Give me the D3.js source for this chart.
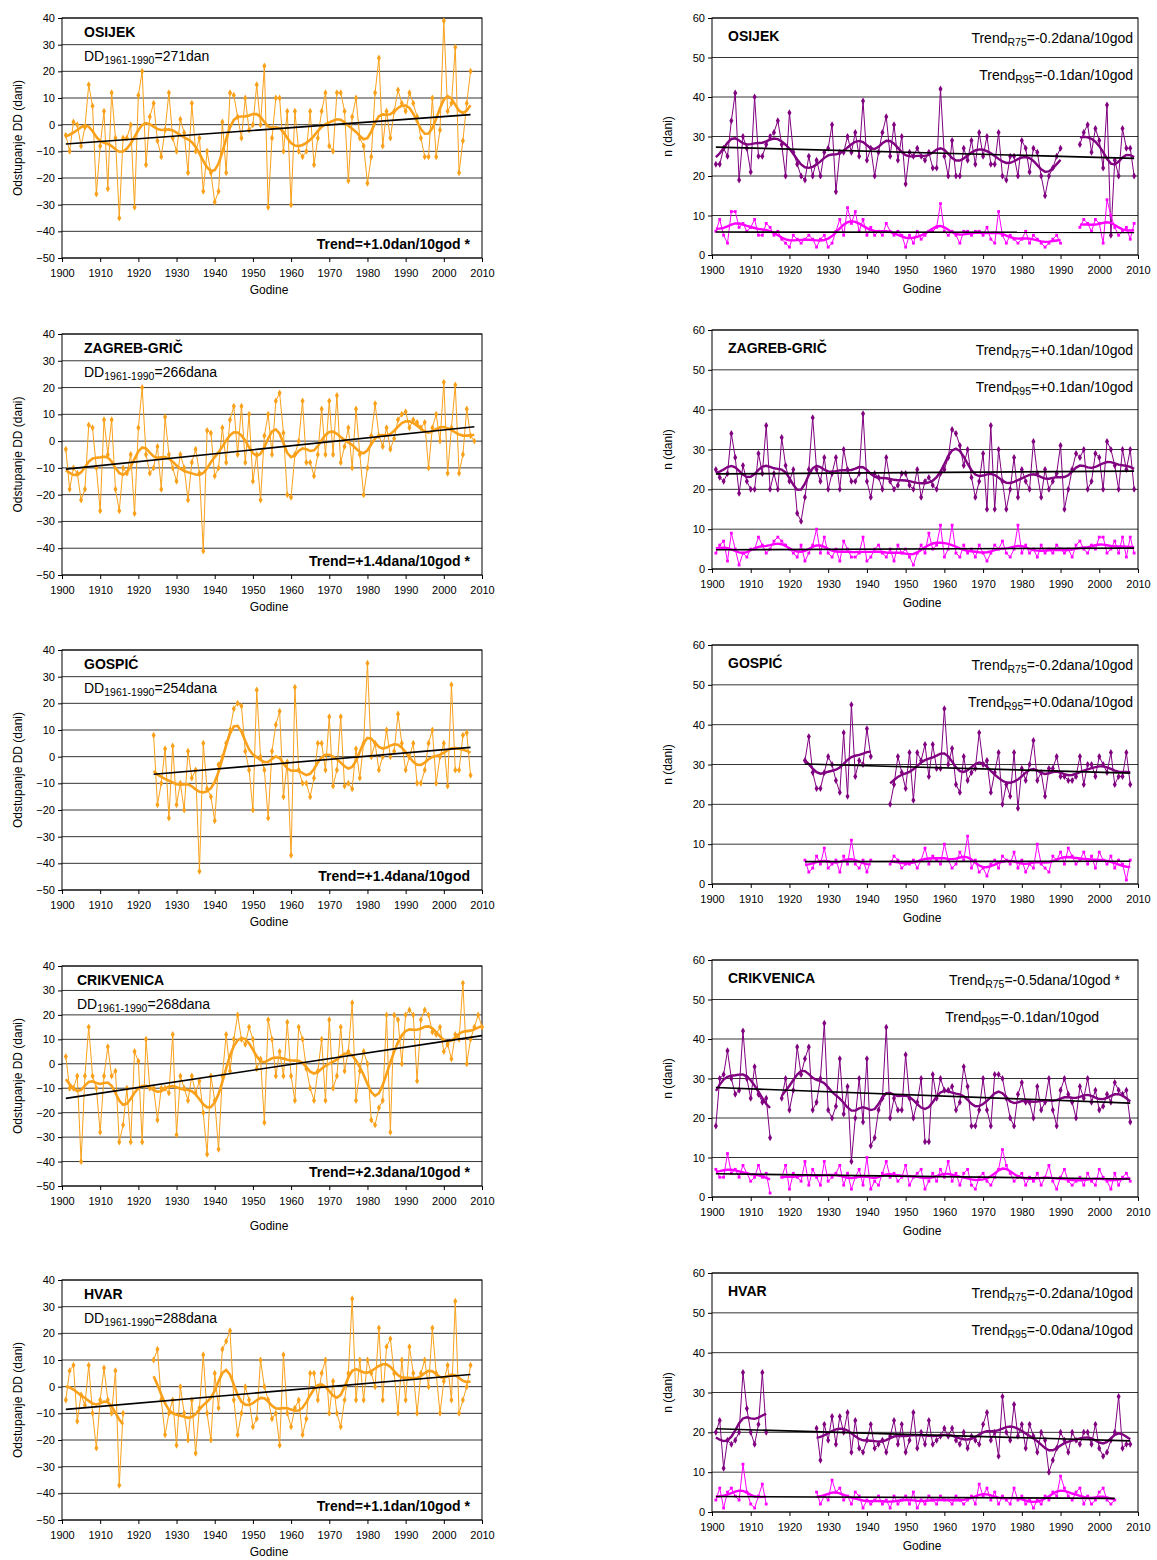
<!DOCTYPE html>
<html><head><meta charset="utf-8">
<script src="https://cdn.jsdelivr.net/npm/d3@7"></script>
<style>body{margin:0;background:#fff;font-family:"Liberation Sans",Arial,sans-serif}</style>
</head><body><div id="chart"></div>
<script>
// station names and labels
var stations = ["OSIJEK", "ZAGREB-GRIČ", "GOSPIĆ", "CRIKVENICA", "HVAR"];
var ddNorm = ["271dan", "266dana", "254dana", "268dana", "288dana"];
var trendDD = ["+1.0dan/10god *", "+1.4dana/10god *", "+1.4dana/10god", "+2.3dana/10god *", "+1.1dan/10god *"];
var trendR75 = ["-0.2dana/10god", "+0.1dan/10god", "-0.2dana/10god", "-0.5dana/10god *", "-0.2dana/10god"];
var trendR95 = ["-0.1dan/10god", "+0.1dan/10god", "+0.0dana/10god", "-0.1dan/10god", "-0.0dana/10god"];
var startDD = [1901, 1901, 1924, 1901, 1901];
var startR = [1901, 1901, 1924, 1901, 1901];
var yearTicks = d3.range(1900, 2011, 10);
var ddTicks = d3.range(-50, 41, 10);
var nTicks = d3.range(0, 61, 10);

var _ = null;
// DD anomalies (days), one per year from startDD
var ddOsijek = [-4,-10,1,0,-8,-1,15,7,-26,-8,5,-24,12,-5,-35,-5,-5,0,-31,11,20,-15,3,8,-6,-12,-2,12,-5,-10,2,-3,-18,8,-10,-5,-25,-10,-18,-29,-25,1,-18,12,11,3,-5,10,-2,0,15,0,22,-31,-5,10,10,-10,5,-30,5,-10,-12,-10,5,-15,-5,5,12,-8,-10,12,12,5,-21,3,10,-5,-8,-22,-12,12,25,-8,5,-5,5,13,8,5,12,8,3,-5,-12,-12,10,-12,-2,39,5,8,29,-18,-6,8,20];
var ddZagreb = [-3,-18,-10,-12,-22,-18,6,5,-10,-26,8,-5,8,-18,-26,-10,-12,-5,-27,5,20,-5,-12,-10,-2,-18,9,-5,-10,-15,-5,-10,-22,-8,-3,-12,-41,4,3,-13,-10,5,-8,8,13,-5,13,-8,10,-15,-5,-22,2,10,-5,15,18,3,-20,-21,-5,0,15,-8,-8,-13,-5,12,-5,15,-5,17,-8,-2,5,-10,12,-5,-20,-10,2,14,2,-2,5,-3,1,8,10,11,5,8,7,5,7,-10,5,10,0,22,-12,5,21,-12,-5,12,2,0];
var ddGospic = [8,-18,-10,3,-23,4,-18,-10,-20,2,-8,-5,-43,5,-12,-15,-24,-3,0,5,10,18,20,19,2,-5,-20,25,0,-5,-23,2,12,17,-15,-2,-37,26,-5,-10,-10,-15,-8,5,5,-5,15,-11,-5,15,-11,-10,-12,3,-8,5,35,0,5,-5,0,10,0,2,16,5,-5,0,5,-10,-10,-5,5,10,-10,0,5,-11,27,-5,-5,8,9,-7];
var ddCrikvenica = [3,-10,-10,-5,-40,-5,15,-5,-10,-28,-5,7,-5,-3,-32,-25,-10,-32,5,1,-32,10,-10,-10,-23,-10,-10,-12,12,-29,-5,-10,-15,-5,-12,-7,-20,-37,-5,-15,-35,-5,12,-3,10,20,10,8,15,10,-2,2,-24,18,10,-5,5,-5,17,-5,-15,15,10,-2,-10,-15,-3,10,-15,18,-10,-5,15,-3,5,25,-15,-3,5,0,-23,-25,-18,-15,20,-28,20,18,0,20,22,20,-7,18,22,20,13,12,15,5,8,2,12,10,33,0,10,15,20,15];
var ddHvar = [-5,6,8,-13,-3,-7,8,-10,-23,-5,7,-5,-10,6,-37,-10,_,_,_,_,_,_,_,10,14,-5,-18,-10,-5,-22,0,-10,-20,-5,-25,-8,12,-10,-20,5,-8,14,17,21,-5,-18,-10,0,-5,-15,-12,10,0,-5,-12,-10,-22,12,-10,-15,-8,-5,-18,-12,5,5,-5,5,10,-10,2,-10,-15,-5,5,33,-5,10,-5,10,5,0,22,-5,15,18,5,-10,10,-5,15,5,-10,5,10,0,22,5,-10,2,8,-5,32,-10,-5,0,8];
// number of days above 75th (R75) and 95th (R95) percentile
var r75Osijek = [23,23,27,25,34,41,19,30,27,21,40,25,25,28,30,31,34,28,20,36,26,23,20,19,25,20,24,20,26,27,33,16,26,26,30,26,31,25,39,24,27,20,26,31,35,25,33,24,30,18,26,25,27,25,24,26,22,22,42,25,20,29,20,20,27,24,29,23,31,25,30,23,23,31,20,19,25,25,20,29,27,21,27,26,20,15,20,22,25,27,_,_,_,_,28,31,33,26,32,29,22,38,5,24,20,32,27,27,20];
var r95Osijek = [6,9,5,3,11,11,7,8,6,7,9,5,5,8,7,5,6,4,3,2,5,4,3,4,5,4,2,4,5,2,3,6,9,5,12,8,11,6,9,5,7,5,6,5,8,6,5,6,5,2,5,3,6,4,5,6,6,7,13,6,5,6,5,3,6,6,5,6,6,5,7,4,3,11,5,3,5,4,3,4,6,3,5,4,3,2,3,4,5,3,_,_,_,_,7,9,8,6,9,8,3,14,10,7,5,6,7,4,8];
var r75Zagreb = [25,23,22,24,34,28,19,26,22,20,20,29,24,36,20,24,20,33,26,22,25,14,12,18,25,38,25,22,28,20,24,28,20,30,25,22,22,24,39,22,18,24,23,20,28,22,20,21,24,24,21,20,25,18,22,23,21,20,24,25,28,35,34,31,26,30,23,18,22,29,15,36,15,30,22,15,20,28,18,25,22,20,32,24,18,25,20,22,24,31,15,20,25,29,28,30,20,22,29,28,20,32,30,26,20,30,25,30,20];
var r95Zagreb = [4,6,7,2,9,5,1,4,3,5,5,8,6,4,5,7,8,7,6,5,4,3,6,2,4,6,10,4,8,4,3,5,2,7,5,3,3,4,8,2,3,5,6,4,3,5,2,6,4,5,3,1,4,6,4,9,5,6,11,3,5,11,4,3,6,4,5,3,6,4,2,4,6,5,7,4,3,5,11,4,6,4,5,3,6,4,5,4,6,5,4,5,3,6,7,5,4,6,5,8,8,4,5,7,4,8,3,8,4];
var r75Gospic = [31,37,28,24,24,28,32,30,26,23,38,22,45,27,31,30,39,32,_,_,_,_,20,25,32,28,24,33,21,33,31,35,27,35,29,29,44,30,34,25,23,32,26,28,29,38,30,31,23,28,33,20,25,22,33,19,29,26,30,36,26,28,22,29,29,32,27,27,26,26,27,32,25,30,30,27,32,30,28,33,25,27,27,33,25];
var r95Gospic = [6,3,4,7,5,9,4,5,6,3,7,5,11,5,4,6,3,6,_,_,_,_,5,7,6,4,5,5,6,4,6,9,5,7,6,5,10,6,4,5,8,6,12,4,6,3,4,2,5,6,4,7,6,5,8,4,6,3,5,4,10,5,4,3,7,6,8,5,9,7,5,6,8,5,7,4,8,6,5,7,4,6,5,1,6];
var r75Crikvenica = [18,30,31,37,30,26,27,42,30,25,33,26,24,25,15,_,_,25,30,22,27,38,31,35,38,22,24,30,44,22,20,23,35,21,28,9,20,30,19,35,13,15,22,25,43,20,25,22,22,36,25,20,24,30,14,14,31,25,30,27,27,28,22,24,33,28,18,18,22,30,22,18,31,31,30,25,20,18,26,29,24,24,20,28,22,24,30,22,18,27,30,26,24,20,28,25,30,24,27,22,23,26,24,29,27,26,27,19];
var r95Crikvenica = [7,5,5,11,6,7,5,8,6,4,5,8,5,6,1,_,_,5,8,2,6,5,4,9,3,7,5,3,9,4,5,6,8,3,6,2,5,7,3,10,2,4,3,6,9,5,6,4,5,8,3,5,6,7,2,4,6,4,7,5,9,4,6,3,6,7,3,2,5,6,4,3,5,7,12,8,6,4,5,6,3,5,4,6,3,5,8,4,2,5,7,4,3,4,5,3,6,4,3,7,5,4,2,6,3,5,6,4];
var r75Hvar = [20,23,11,18,17,18,20,35,26,20,17,22,35,20,_,_,_,_,_,_,_,_,_,_,_,_,21,13,22,18,24,17,24,20,25,15,23,16,15,18,22,16,17,18,15,19,23,17,22,15,18,25,16,20,17,23,17,18,19,21,19,21,18,17,20,16,19,18,17,22,25,18,20,14,29,20,18,27,19,22,16,22,19,15,20,18,10,13,16,20,18,15,20,18,17,20,20,17,22,16,14,15,18,20,29,16,17,17];
var r95Hvar = [3,6,1,5,6,4,3,12,5,2,1,4,7,2,_,_,_,_,_,_,_,_,_,_,_,_,5,2,4,3,8,5,6,3,4,2,5,4,1,3,2,3,4,2,3,1,4,2,3,4,2,5,1,3,2,4,3,2,4,3,3,2,4,3,2,3,4,2,7,4,6,3,5,2,4,3,2,6,3,4,2,3,1,3,2,4,3,5,4,9,6,4,3,5,6,2,4,2,3,5,6,3,2,3];

var ddSeries = [ddOsijek, ddZagreb, ddGospic, ddCrikvenica, ddHvar];
var r75Series = [r75Osijek, r75Zagreb, r75Gospic, r75Crikvenica, r75Hvar];
var r95Series = [r95Osijek, r95Zagreb, r95Gospic, r95Crikvenica, r95Hvar];

var leftTops = [18, 334, 650, 966, 1280], leftH = [240, 241, 240, 220, 240];
var rightTops = [18, 330, 645, 960, 1273], rightH = [237, 239, 239, 237, 239];

var svg = d3.select("#chart").append("svg").attr("width", 1157).attr("height", 1560)
    .style("font-family", '"Liberation Sans",Arial,sans-serif');

function toPoints(arr, start) {
    return arr.map(function(v, i) { return {x: start + i, y: v}; });
}
// gaussian smoothing over existing neighbours
function smooth(pts) {
    var s = 2;
    return pts.map(function(p) {
        if (p.y == null) return {x: p.x, y: null};
        var sw = 0, sv = 0;
        pts.forEach(function(q) {
            if (q.y == null || Math.abs(q.x - p.x) > 6) return;
            var w = Math.exp(-Math.pow(q.x - p.x, 2) / (2 * s * s));
            sw += w; sv += w * q.y;
        });
        return {x: p.x, y: sv / sw};
    });
}
function fit(pts) {
    var v = pts.filter(function(p) { return p.y != null; });
    var mx = d3.mean(v, function(p) { return p.x; }), my = d3.mean(v, function(p) { return p.y; });
    var b = d3.sum(v, function(p) { return (p.x - mx) * (p.y - my); }) / d3.sum(v, function(p) { return (p.x - mx) * (p.x - mx); });
    var x0 = d3.min(v, function(p) { return p.x; }), x1 = d3.max(v, function(p) { return p.x; });
    return [{x: x0, y: my + b * (x0 - mx)}, {x: x1, y: my + b * (x1 - mx)}];
}

function panel(x0, x1, top, h, ticks, yLabel, xLabelGap) {
    var g = svg.append("g");
    var x = d3.scaleLinear().domain([1900, 2010]).range([x0, x1]);
    var y = d3.scaleLinear().domain([ticks[0], ticks[ticks.length - 1]]).range([top + h, top]);
    g.selectAll(".grid").data(ticks).enter().append("line")
        .attr("x1", x0).attr("x2", x1).attr("y1", function(d) { return y(d); }).attr("y2", function(d) { return y(d); })
        .attr("stroke", "#000").attr("stroke-width", 0.8);
    g.append("rect").attr("x", x0).attr("y", top).attr("width", x1 - x0).attr("height", h)
        .attr("fill", "none").attr("stroke", "#000").attr("stroke-width", 1);
    g.append("g").attr("transform", "translate(0," + (top + h) + ")")
        .call(d3.axisBottom(x).tickValues(yearTicks).tickFormat(d3.format("d")).tickSize(4))
        .call(function(a) { a.select(".domain").remove(); a.selectAll("text").attr("font-size", 11).attr("fill", "#000").attr("dy", "1.1em"); });
    g.append("g").attr("transform", "translate(" + x0 + ",0)")
        .call(d3.axisLeft(y).tickValues(ticks).tickSize(4))
        .call(function(a) { a.select(".domain").remove(); a.selectAll("text").attr("font-size", 11).attr("fill", "#000"); });
    g.append("text").attr("x", (x0 + x1) / 2 - 3).attr("y", top + h + xLabelGap).attr("text-anchor", "middle")
        .attr("font-size", 12).text("Godine");
    var lx = x0 - 40;
    g.append("text").attr("transform", "translate(" + lx + "," + (top + h / 2) + ") rotate(-90)")
        .attr("text-anchor", "middle").attr("font-size", 12).text(yLabel);
    return {g: g, x: x, y: y};
}

function draw(p, pts, color, thin, thick, shape, size) {
    var line = d3.line().defined(function(d) { return d.y != null; }).x(function(d) { return p.x(d.x); }).y(function(d) { return p.y(d.y); });
    p.g.append("path").attr("d", line(pts)).attr("fill", "none").attr("stroke", color).attr("stroke-width", thin);
    p.g.selectAll(null).data(pts.filter(function(d) { return d.y != null; })).enter().append("path")
        .attr("transform", function(d) { return "translate(" + p.x(d.x) + "," + p.y(d.y) + ")"; })
        .attr("d", d3.symbol().type(shape).size(size)).attr("fill", color);
    p.g.append("path").attr("d", line(smooth(pts))).attr("fill", "none").attr("stroke", color).attr("stroke-width", thick);
    p.g.append("path").attr("d", line(fit(pts))).attr("fill", "none").attr("stroke", "#000").attr("stroke-width", 1.6);
}

function subText(g, x, y, anchor, weight, a, sub, b, size) {
    var t = g.append("text").attr("x", x).attr("y", y).attr("text-anchor", anchor).attr("font-size", size).attr("font-weight", weight);
    t.append("tspan").text(a);
    t.append("tspan").attr("font-size", size * 0.75).attr("dy", 3).text(sub);
    t.append("tspan").attr("dy", -3).text(b);
}

var diamond = d3.symbolDiamond, square = d3.symbolSquare;
stations.forEach(function(name, i) {
    // left: DD anomalies
    var pl = panel(62, 482, leftTops[i], leftH[i], ddTicks, "Odstupanje DD (dani)", i == 3 ? 44 : 36);
    draw(pl, toPoints(ddSeries[i], startDD[i]), "#F9A11B", 1, 2.6, diamond, 14);
    var nx = i == 3 ? 77 : 84;
    pl.g.append("text").attr("x", nx).attr("y", leftTops[i] + 19).attr("font-size", 14).attr("font-weight", "bold").text(name);
    subText(pl.g, nx, leftTops[i] + 43, "start", "normal", "DD", "1961-1990", "=" + ddNorm[i], 14);
    pl.g.append("text").attr("x", 470).attr("y", leftTops[i] + leftH[i] - 9).attr("text-anchor", "end")
        .attr("font-size", 14).attr("font-weight", "bold").text("Trend=" + trendDD[i]);

    // right: R75 and R95 day counts
    var pr = panel(712, 1138, rightTops[i], rightH[i], nTicks, "n (dani)", 38);
    draw(pr, toPoints(r75Series[i], startR[i]), "#800080", 1, 2.4, diamond, 14);
    draw(pr, toPoints(r95Series[i], startR[i]), "#FF00FF", 1, 2.4, square, 8);
    pr.g.append("text").attr("x", 728).attr("y", rightTops[i] + 23).attr("font-size", 14).attr("font-weight", "bold").text(name);
    var tx = i == 3 ? 1120 : 1133;
    subText(pr.g, tx, rightTops[i] + 25, "end", "normal", "Trend", "R75", "=" + trendR75[i], 14);
    subText(pr.g, i == 3 ? 1099 : 1133, rightTops[i] + 62, "end", "normal", "Trend", "R95", "=" + trendR95[i], 14);
});
</script>
</body></html>
